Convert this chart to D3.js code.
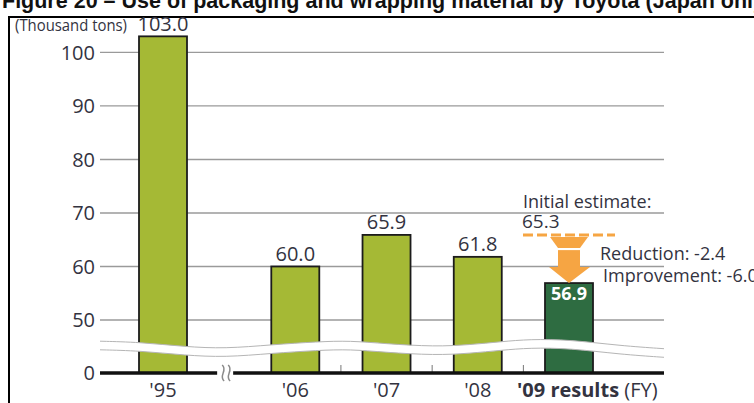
<!DOCTYPE html>
<html>
<head>
<meta charset="utf-8">
<script src="https://cdn.jsdelivr.net/npm/d3@7"></script>
<style>
  html, body { margin: 0; padding: 0; background: #fff; }
  svg { display: block; }
</style>
</head>
<body>
<svg id="chart" width="754" height="403"></svg>
<script>
// ---- data ----
const categories = ["'95", "'06", "'07", "'08", "'09"];
const values = [103.0, 60.0, 65.9, 61.8, 56.9];
const valueLabels = ["103.0", "60.0", "65.9", "61.8", "56.9"];
const yTicks = [0, 50, 60, 70, 80, 90, 100];
const gridTicks = [50, 60, 70, 80, 90, 100];
const initialEstimate = 65.3;
const titleText = "Figure 20 \u2013 Use of packaging and wrapping material by Toyota (Japan only)";
const unitLabel = "(Thousand tons)";
const annotations = ["Initial estimate:", "65.3", "Reduction: -2.4", "Improvement: -6.0"];

// ---- layout ----
const svg = d3.select("#chart");
const textColor = "#33333f";
const barGreen = "#a5b935";
const darkGreen = "#2e6c41";
const orange = "#f6a543";
const numFont = "'Open Sans', sans-serif";

// y: broken scale (0 sits directly below 50)
const y = d3.scaleLinear().domain([0, 50, 100]).range([373, 320, 52.4]);
// x: slot index with a gap after '95
const slot = i => (i === 0 ? 0 : i + 0.45);
const x = d3.scaleLinear().domain([0, 4.45]).range([163, 569]);
const barW = 48;
const plotL = 100, plotR = 664;

// title (partly cut at top)
svg.append("text")
  .attr("x", 2).attr("y", 7.5)
  .attr("font-family", "'Liberation Sans', Arial, sans-serif")
  .attr("font-weight", "bold").attr("font-size", 21.5)
  .attr("fill", "#111")
  .text(titleText);

// frame
svg.append("path")
  .attr("d", "M9,403 V17 H754")
  .attr("fill", "none").attr("stroke", "#000").attr("stroke-width", 2);

// unit label
svg.append("text")
  .attr("x", 15).attr("y", 31)
  .attr("font-family", numFont).attr("font-size", 17)
  .attr("textLength", 112).attr("lengthAdjust", "spacingAndGlyphs")
  .attr("fill", textColor)
  .text(unitLabel);

// gridlines
svg.append("g").selectAll("line").data(gridTicks).join("line")
  .attr("x1", plotL).attr("x2", plotR)
  .attr("y1", d => y(d)).attr("y2", d => y(d))
  .attr("stroke", "#9a9a9a").attr("stroke-width", 1.4);

// y tick labels
svg.append("g").selectAll("text").data(yTicks).join("text")
  .attr("x", 95).attr("y", d => y(d))
  .attr("dy", "0.36em")
  .attr("text-anchor", "end")
  .attr("font-family", numFont).attr("font-size", 20)
  .attr("fill", textColor)
  .text(d => d);

// bars
svg.append("g").selectAll("rect").data(values).join("rect")
  .attr("x", (d, i) => x(slot(i)) - barW / 2)
  .attr("width", barW)
  .attr("y", d => y(d))
  .attr("height", d => y(0) - y(d))
  .attr("fill", (d, i) => i === values.length - 1 ? darkGreen : barGreen)
  .attr("stroke", "#1c1c1c").attr("stroke-width", 1.8);

// wavy break band (decoration)
const waveCenter = [[100,345.5],[140,346.5],[185,351],[225,353],[272,349],[318,346],[350,345],
  [385,348],[435,351],[470,349],[501,346],[530,343.5],[570,344],[620,350],[664,353]];
const half = 4.3;
const lineGen = d3.line().curve(d3.curveBasis);
const topPts = waveCenter.map(([a, b]) => [a, b - half]);
const botPts = waveCenter.map(([a, b]) => [a, b + half]);
const areaGen = d3.area().curve(d3.curveBasis).x(d => d[0]).y0(d => d[1] - half).y1(d => d[1] + half);
svg.append("path").attr("d", areaGen(waveCenter)).attr("fill", "#fff").attr("stroke", "none");
svg.append("path").attr("d", lineGen(topPts)).attr("fill", "none").attr("stroke", "#b5b5b5").attr("stroke-width", 1);
svg.append("path").attr("d", lineGen(botPts)).attr("fill", "none").attr("stroke", "#b5b5b5").attr("stroke-width", 1);

// small ticks between recent bars
const mids = d3.range(1, categories.length - 1).map(i => (x(slot(i)) + x(slot(i + 1))) / 2);
svg.append("g").selectAll("line").data(mids).join("line")
  .attr("x1", d => d).attr("x2", d => d)
  .attr("y1", y(0)).attr("y2", y(0) - 8)
  .attr("stroke", "#777").attr("stroke-width", 1);

// baseline with break
const breakX = (x(slot(0)) + x(slot(1))) / 2 - 2;
svg.append("line").attr("x1", plotL).attr("x2", breakX - 10).attr("y1", y(0)).attr("y2", y(0))
  .attr("stroke", "#111").attr("stroke-width", 3.5);
svg.append("line").attr("x1", breakX + 6).attr("x2", plotR).attr("y1", y(0)).attr("y2", y(0))
  .attr("stroke", "#111").attr("stroke-width", 3.5);
[-3, 3].forEach(off => {
  svg.append("path")
    .attr("d", `M${breakX + off - 2},${y(0) - 8} C${breakX + off + 4},${y(0) - 3} ${breakX + off - 6},${y(0) + 3} ${breakX + off},${y(0) + 8}`)
    .attr("fill", "none").attr("stroke", "#8a8a8a").attr("stroke-width", 1.5);
});

// value labels
svg.append("g").selectAll("text").data(values).join("text")
  .attr("x", (d, i) => x(slot(i)))
  .attr("y", (d, i) => i === values.length - 1 ? y(d) + 17 : y(d) - 5.5)
  .attr("text-anchor", "middle")
  .attr("font-family", numFont)
  .attr("font-size", (d, i) => i === values.length - 1 ? 18 : 20)
  .attr("font-weight", (d, i) => i === values.length - 1 ? "bold" : "normal")
  .attr("fill", (d, i) => i === values.length - 1 ? "#fff" : textColor)
  .text((d, i) => valueLabels[i]);

// x labels
const xl = svg.append("g");
categories.forEach((c, i) => {
  if (i === categories.length - 1) {
    const t = xl.append("text").attr("x", 517).attr("y", 397)
      .attr("font-family", numFont).attr("font-size", 20).attr("fill", textColor);
    t.append("tspan").attr("font-weight", "bold").text(c + " results");
    t.append("tspan").text(" (FY)");
  } else {
    xl.append("text").attr("x", x(slot(i))).attr("y", 397)
      .attr("text-anchor", "middle")
      .attr("font-family", numFont).attr("font-size", 20).attr("fill", textColor)
      .text(c);
  }
});

// annotation: initial estimate
const cx = x(slot(values.length - 1));
const yEst = y(initialEstimate) - 3;
const yRes = y(values[values.length - 1]);
svg.append("text").attr("x", 523).attr("y", 208)
  .attr("font-family", numFont).attr("font-size", 18).attr("fill", textColor)
  .text(annotations[0]);
svg.append("text").attr("x", 522).attr("y", 228)
  .attr("font-family", numFont).attr("font-size", 19).attr("fill", textColor)
  .text(annotations[1]);
svg.append("line").attr("x1", 523).attr("x2", 615).attr("y1", yEst).attr("y2", yEst)
  .attr("stroke", orange).attr("stroke-width", 3).attr("stroke-dasharray", "10,4");

// arrow
svg.append("path")
  .attr("d", `M${cx - 19},${yEst + 2} L${cx + 19},${yEst + 2} L${cx + 11},${yEst + 13} L${cx - 11},${yEst + 13} Z`)
  .attr("fill", orange);
svg.append("rect").attr("x", cx - 11).attr("width", 22).attr("y", yEst + 15).attr("height", yRes - 16 - (yEst + 15))
  .attr("fill", orange);
svg.append("path")
  .attr("d", `M${cx - 20},${yRes - 16} L${cx + 21},${yRes - 16} L${cx},${yRes} Z`)
  .attr("fill", orange);

svg.append("text").attr("x", 600).attr("y", 259.5)
  .attr("font-family", numFont).attr("font-size", 18).attr("fill", textColor)
  .text(annotations[2]);
svg.append("text").attr("x", 603).attr("y", 281.5)
  .attr("font-family", numFont).attr("font-size", 18).attr("fill", textColor)
  .text(annotations[3]);
</script>
</body>
</html>
